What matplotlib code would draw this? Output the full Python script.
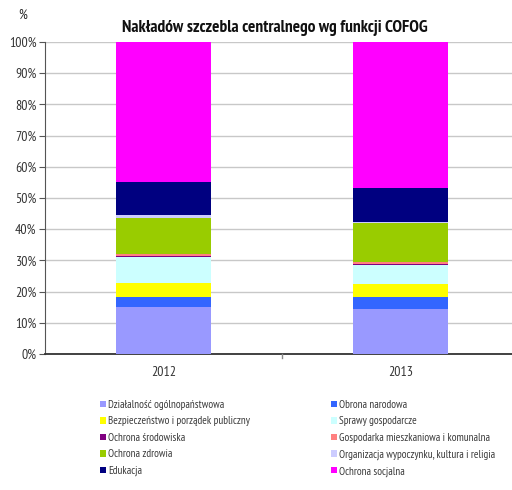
import matplotlib
matplotlib.use("Agg")
import matplotlib.pyplot as plt
import numpy as np

years = ["2012", "2013"]
categories = [
    "Działalność ogólnopaństwowa",
    "Obrona narodowa",
    "Bezpieczeństwo i porządek publiczny",
    "Sprawy gospodarcze",
    "Ochrona środowiska",
    "Gospodarka mieszkaniowa i komunalna",
    "Ochrona zdrowia",
    "Organizacja wypoczynku, kultura i religia",
    "Edukacja",
    "Ochrona socjalna",
]
values_2012 = [15.0, 3.3, 4.5, 8.4, 0.2, 0.5, 11.8, 0.7, 10.6, 45.0]
values_2013 = [14.3, 4.1, 4.1, 6.0, 0.4, 0.7, 12.3, 0.4, 10.9, 46.8]
colors = ["#9999ff", "#3366ff", "#ffff00", "#ccffff", "#800080",
          "#ff8080", "#99cc00", "#ccccff", "#000080", "#ff00ff"]

plt.rcParams["font.family"] = ["PT Sans Narrow", "Roboto Condensed", "DejaVu Sans"]

fig = plt.figure(figsize=(5.12, 4.90), dpi=100)
ax = fig.add_axes([44.7 / 512, 1 - 354 / 490, (519 - 44.7) / 512, (354 - 42) / 490])

data = np.array([values_2012, values_2013])
x = np.arange(len(years))
bottom = np.zeros(len(years))
handles = []
for i, cat in enumerate(categories):
    h = ax.bar(x, data[:, i], bottom=bottom, width=0.40, color=colors[i],
               label=cat, zorder=3, linewidth=0)
    handles.append(h)
    bottom += data[:, i]

ax.set_xlim(-0.5, 1.5)
ax.set_ylim(0, 100)
ax.set_yticks(np.arange(0, 101, 10))
ax.set_yticklabels([f"{v}%" for v in range(0, 101, 10)], fontsize=10, color="#333333")
ax.yaxis.grid(True, color="#c8c8c8", linewidth=1, zorder=0)
ax.set_xticks(x)
ax.set_xticklabels(years, fontsize=10, color="#333333")
ax.tick_params(axis="x", length=0, pad=9)
ax.tick_params(axis="y", length=4, direction="out", color="#555555", pad=2)
ax.plot([0.5, 0.5], [0, -1.3], color="#888888", lw=1, clip_on=False, zorder=4)
for s in ["top", "right"]:
    ax.spines[s].set_visible(False)
ax.spines["left"].set_color("#555555")
ax.spines["bottom"].set_color("#333333")
ax.spines["bottom"].set_linewidth(1.3)

fig.text(23 / 512, 1 - 15 / 490, "%", fontsize=10, ha="center", va="center", color="#222222")
fig.text(275 / 512, 1 - 28 / 490, "Nakładów szczebla centralnego wg funkcji COFOG",
         fontsize=12.5, fontweight="bold", ha="center", va="center", color="#111111")

cols = [[0, 2, 4, 6, 8], [1, 3, 5, 7, 9]]
for xpos, idx in zip([100, 331], cols):
    leg = fig.legend([handles[i] for i in idx], [categories[i] for i in idx],
                     ncol=1, loc="upper left", bbox_to_anchor=(xpos / 512, 1 - 400 / 490),
                     frameon=False, fontsize=8, handlelength=0.5, handleheight=0.5,
                     handletextpad=0.25, labelspacing=0.58,
                     borderaxespad=0, borderpad=0)
    for t in leg.get_texts():
        t.set_color("#3a3a3a")

fig.savefig("out.png", dpi=100)
